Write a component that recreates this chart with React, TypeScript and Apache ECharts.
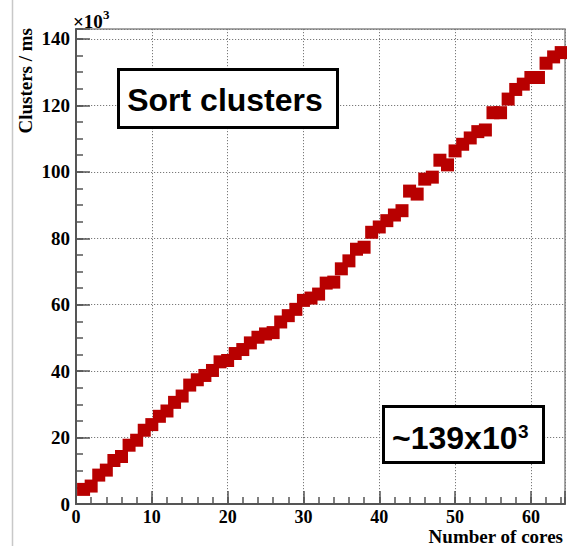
import React, { useEffect, useRef } from "react";
import * as echarts from "echarts";

// Throughput of the cluster sorting step versus the number of cores used.
const cores: number[] = [
  1, 2, 3, 4, 5, 6, 7, 8, 9, 10, 11, 12, 13, 14, 15, 16,
  17, 18, 19, 20, 21, 22, 23, 24, 25, 26, 27, 28, 29, 30, 31, 32,
  33, 34, 35, 36, 37, 38, 39, 40, 41, 42, 43, 44, 45, 46, 47, 48,
  49, 50, 51, 52, 53, 54, 55, 56, 57, 58, 59, 60, 61, 62, 63, 64,
];

// Clusters per ms, in units of 10^3
const clustersPerMs: number[] = [
  4.4, 5.4, 8.7, 10.2, 13.1, 14.3, 17.7, 19.2, 22.2, 23.9, 26.4, 28.0, 30.6, 32.5, 35.8, 37.4,
  38.7, 40.2, 42.8, 43.2, 45.3, 46.5, 48.5, 50.2, 51.2, 51.6, 54.8, 56.7, 58.6, 61.3, 62.0, 63.2,
  66.5, 66.8, 70.8, 73.2, 76.7, 77.3, 81.8, 83.4, 85.3, 87.0, 88.3, 94.2, 93.3, 97.8, 98.4, 103.5,
  102.1, 106.3, 108.3, 110.2, 112.1, 112.6, 117.8, 117.8, 121.9, 124.8, 126.4, 128.4, 128.4, 132.7, 134.6, 135.9,
];

const xRange = { min: 0, max: 64.5, major: 10, minor: 2 };
const yRange = { min: 0, max: 143, major: 20, minor: 5 };

const xTitle = "Number of cores";
const yTitle = "Clusters / ms";
const yExponent = { base: "\u00d710", power: "3" };
const boxTitle = "Sort clusters";
const boxNote = { base: "~139x10", power: "3" };

const SERIF = '"Liberation Serif", "Times New Roman", serif';
const SANS = '"Liberation Sans", Arial, Helvetica, sans-serif';
const AXIS = "#555555";
const GRIDLINE = "#7a7a7a";
const MARKER = "#b80000";

function majorOnly(step: number) {
  return (v: number) => (Math.abs(v / step - Math.round(v / step)) < 1e-6 ? String(v) : "");
}

export default function App() {
  const ref = useRef<HTMLDivElement | null>(null);

  useEffect(() => {
    if (!ref.current) return;
    const chart = echarts.init(ref.current, undefined, { renderer: "svg" });

    const labelStyle = {
      fontFamily: SERIF,
      fontWeight: "bold" as const,
      fontSize: 19,
      lineHeight: 17,
      color: "#000",
      hideOverlap: false,
    };
    const dotted = { color: GRIDLINE, width: 1, type: [1.2, 1.8] as number[] };

    chart.setOption({
      animation: false,
      backgroundColor: "#ffffff",
      grid: {
        left: 76,
        top: 29,
        right: 2,
        bottom: 42,
        show: true,
        borderColor: "#8a8a8a",
        borderWidth: 1.5,
        backgroundColor: "transparent",
        containLabel: false,
        outerBoundsMode: "none",
      },
      xAxis: [
        {
          type: "value",
          position: "bottom",
          min: xRange.min,
          max: xRange.max,
          interval: xRange.major,
          axisLine: { show: true, lineStyle: { color: AXIS, width: 2 } },
          axisTick: { show: true, inside: true, length: 13, lineStyle: { color: AXIS, width: 1.5 } },
          axisLabel: { ...labelStyle, fontSize: 18, margin: 4, formatter: majorOnly(xRange.major) },
          splitLine: { show: true, lineStyle: dotted },
        },
        {
          type: "value",
          position: "bottom",
          min: xRange.min,
          max: xRange.max,
          interval: xRange.minor,
          axisLine: { show: false },
          axisTick: { show: true, inside: true, length: 7, lineStyle: { color: AXIS, width: 1.5 } },
          axisLabel: { show: false },
          splitLine: { show: false },
        },
      ],
      yAxis: [
        {
          type: "value",
          position: "left",
          min: yRange.min,
          max: yRange.max,
          interval: yRange.major,
          axisLine: { show: true, lineStyle: { color: AXIS, width: 2 } },
          axisTick: { show: true, inside: true, length: 14, lineStyle: { color: AXIS, width: 1.5 } },
          axisLabel: { ...labelStyle, margin: 6, formatter: majorOnly(yRange.major) },
          splitLine: { show: true, lineStyle: dotted },
        },
        {
          type: "value",
          position: "left",
          min: yRange.min,
          max: yRange.max,
          interval: yRange.minor,
          axisLine: { show: false },
          axisTick: { show: true, inside: true, length: 7, lineStyle: { color: AXIS, width: 1.5 } },
          axisLabel: { show: false },
          splitLine: { show: false },
        },
      ],
      series: [
        {
          type: "scatter",
          xAxisIndex: 0,
          yAxisIndex: 0,
          symbol: "rect",
          symbolSize: 13,
          itemStyle: { color: MARKER, opacity: 1 },
          emphasis: { disabled: true },
          data: cores.map((c, i) => [c, clustersPerMs[i]]),
        },
      ],
      graphic: [
        {
          type: "line",
          shape: { x1: 12.5, y1: 0, x2: 12.5, y2: 546 },
          style: { stroke: "#c8c8c8", lineWidth: 1.5 },
          silent: true,
        },
        {
          type: "text",
          style: {
            text: yExponent.base,
            x: 73,
            y: 21,
            textAlign: "left",
            textVerticalAlign: "middle",
            font: `bold 19px ${SERIF}`,
            fill: "#000",
          },
        },
        {
          type: "text",
          style: {
            text: yExponent.power,
            x: 103,
            y: 14,
            textAlign: "left",
            textVerticalAlign: "middle",
            font: `bold 13px ${SERIF}`,
            fill: "#000",
          },
        },
        {
          type: "text",
          x: 25,
          y: 28,
          rotation: Math.PI / 2,
          style: {
            text: yTitle,
            x: 0,
            y: 0,
            textAlign: "right",
            textVerticalAlign: "middle",
            font: `bold 19px ${SERIF}`,
            fill: "#000",
          },
        },
        {
          type: "text",
          style: {
            text: xTitle,
            x: 563,
            y: 536,
            lineHeight: 15,
            textAlign: "right",
            textVerticalAlign: "middle",
            font: `bold 19px ${SERIF}`,
            fill: "#000",
          },
        },
        {
          type: "rect",
          shape: { x: 118.5, y: 69.5, width: 219, height: 58 },
          style: { fill: "#ffffff", stroke: "#000000", lineWidth: 3 },
          z: 100,
        },
        {
          type: "text",
          z: 101,
          style: {
            text: boxTitle,
            x: 225,
            y: 100,
            textAlign: "center",
            textVerticalAlign: "middle",
            font: `bold 32px ${SANS}`,
            fill: "#000",
          },
        },
        {
          type: "rect",
          shape: { x: 383.5, y: 406.5, width: 160, height: 56 },
          style: { fill: "#ffffff", stroke: "#000000", lineWidth: 3 },
          z: 100,
        },
        {
          type: "text",
          z: 101,
          style: {
            text: boxNote.base,
            x: 392,
            y: 438,
            textAlign: "left",
            textVerticalAlign: "middle",
            font: `bold 32px ${SANS}`,
            fill: "#000",
          },
        },
        {
          type: "text",
          z: 101,
          style: {
            text: boxNote.power,
            x: 518,
            y: 431,
            textAlign: "left",
            textVerticalAlign: "middle",
            font: `bold 19px ${SANS}`,
            fill: "#000",
          },
        },
      ],
    });

    return () => chart.dispose();
  }, []);

  return (
    <div
      ref={ref}
      style={{ position: "fixed", left: 0, top: 0, width: 567, height: 546, background: "#fff" }}
    />
  );
}
